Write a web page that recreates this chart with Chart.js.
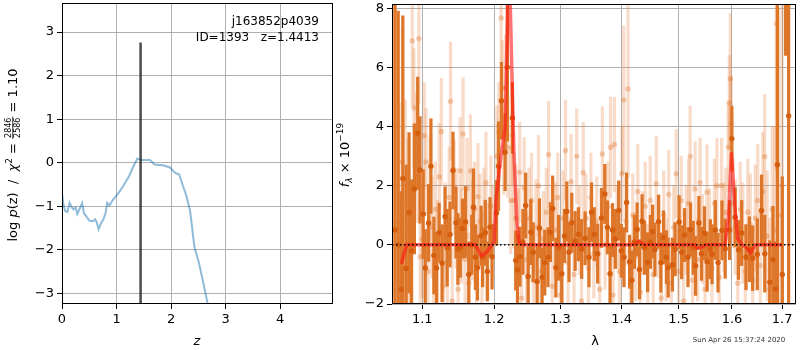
<!DOCTYPE html>
<html>
<head>
<meta charset="utf-8">
<script src="https://cdn.jsdelivr.net/npm/chart.js@4"></script>
<style>
  body { margin: 0; background: #fff; }
  #wrap { position: relative; width: 800px; height: 350px; }
  #leftBox { position: absolute; left: 0; top: 0; width: 336px; height: 350px; }
  #rightBox { position: absolute; left: 330px; top: 0; width: 470px; height: 350px; }
</style>
</head>
<body>
<div id="wrap">
  <div id="leftBox"><canvas id="pzChart"></canvas></div>
  <div id="rightBox"><canvas id="specChart"></canvas></div>
</div>
<script>
// ---- left panel: log p(z) ----
const zGrid = [0.006, 0.03, 0.06, 0.10, 0.14, 0.18, 0.21, 0.25, 0.28, 0.32, 0.37, 0.40, 0.46, 0.51, 0.57, 0.61, 0.64, 0.67, 0.72, 0.76, 0.80, 0.83, 0.87, 0.94, 1.03, 1.12, 1.23, 1.30, 1.38, 1.46, 1.61, 1.70, 1.85, 1.98, 2.07, 2.15, 2.21, 2.28, 2.35, 2.43, 2.51, 2.59, 2.67, 2.75];
const logPz = [-0.75, -0.99, -1.11, -1.13, -0.92, -1.03, -1.07, -1.03, -1.18, -1.07, -0.93, -1.15, -1.26, -1.34, -1.34, -1.30, -1.38, -1.53, -1.38, -1.30, -1.15, -0.92, -0.98, -0.84, -0.71, -0.54, -0.31, -0.11, 0.09, 0.06, 0.06, -0.04, -0.06, -0.11, -0.23, -0.27, -0.50, -0.76, -1.11, -1.95, -2.29, -2.75, -3.23, -3.70];
const zBest = 1.4413;
const zLineTop = 2.76;
const zTicks = [0, 1, 2, 3, 4];
const pzTicks = [-3, -2, -1, 0, 1, 2, 3];

// ---- right panel: spectrum ----
const darkWave = [1.0643, 1.0685, 1.0723, 1.0745, 1.0788, 1.0826, 1.0859, 1.0896, 1.0940, 1.0970,
  1.1013, 1.1040, 1.1085, 1.1116, 1.1156, 1.1192, 1.1227, 1.1267, 1.1308, 1.1337,
  1.1376, 1.1417, 1.1458, 1.1485, 1.1518, 1.1550, 1.1591, 1.1637, 1.1679, 1.1703,
  1.1731, 1.1760, 1.1812, 1.1834, 1.1872, 1.1901, 1.1940, 1.1969, 1.2034, 1.2063,
  1.2106, 1.2160, 1.2193, 1.2267, 1.2317, 1.2344, 1.2380, 1.2425, 1.2466, 1.2504,
  1.2544, 1.2580, 1.2640, 1.2676, 1.2716, 1.2757, 1.2807, 1.2844, 1.2880, 1.2930,
  1.2973, 1.3024, 1.3066, 1.3102, 1.3137, 1.3181, 1.3235, 1.3287, 1.3340, 1.3395,
  1.3458, 1.3500, 1.3545, 1.3601, 1.3663, 1.3719, 1.3762, 1.3806, 1.3847, 1.3894,
  1.3951, 1.3997, 1.4040, 1.4085, 1.4136, 1.4175, 1.4218, 1.4265, 1.4306, 1.4351,
  1.4392, 1.4448, 1.4496, 1.4535, 1.4576, 1.4640, 1.4681, 1.4728, 1.4781, 1.4811,
  1.4888, 1.4936, 1.5008, 1.5055, 1.5109, 1.5171, 1.5218, 1.5267, 1.5310, 1.5372,
  1.5420, 1.5476, 1.5526, 1.5587, 1.5619, 1.5680, 1.5732, 1.5807, 1.5869, 1.5954,
  1.5997, 1.6061, 1.6126, 1.6189, 1.6273, 1.6340, 1.6405, 1.6497, 1.6582, 1.6647,
  1.6747, 1.6813, 1.6869, 1.6903, 1.7004, 1.7072, 1.7134];
const darkFlux = [0.5, 0.0, -1.5, 2.24, -0.8, 1.09, -0.2, 1.89, 3.77, 2.53,
  1.04, -0.78, 0.74, 2.66, -0.36, -0.78, 0.41, -0.62, 0.96, -0.1,
  0.35, 2.51, 0.75, -0.14, -0.1, 0.55, 0.77, -1.0, 0.0, 1.27,
  -0.42, -0.77, 0.31, -0.42, 0.41, -0.9, 0.6, -0.4, 1.08, 2.66,
  4.87, 3.13, 6.0, 4.29, -0.53, -0.85, -0.4, 0.1, 1.33, -1.07,
  0.43, -0.25, -1.24, 0.56, -1.1, -0.6, -0.42, 0.43, 1.23, -0.77,
  -0.1, -0.98, 0.3, 1.13, -0.25, 0.75, 0.13, 0.36, -0.14, 0.22,
  -0.42, 1.1, 0.36, -0.3, 0.91, 1.72, 0.59, -0.98, 0.5, 0.2,
  1.16, -0.2, -0.42, 1.43, -0.57, -1.2, 0.1, 0.52, -0.83, 0.8,
  -0.1, -0.59, 0.1, 0.45, -0.16, 0.78, -0.6, 0.25, -0.42, -0.77,
  -0.67, -0.15, 0.77, -0.25, 0.33, -0.42, 0.52, -0.1, -0.71, 0.74,
  -0.3, 0.39, -0.57, -0.15, -0.32, 0.5, -0.6, 0.49, -0.13, 0.5,
  3.59, 0.93, -0.17, 0.4, -0.42, -0.15, -0.45, -0.32, 1.16, -0.3,
  -1.26, -0.5, -1.49, 2.71, -1.0, 11.0, 4.36];
const darkErr = [9.0, 7.9, 3.3, 5.5, 3.5, 2.7, 2.4, 2.2, 1.9, 1.8,
  1.5, 1.3, 1.3, 1.6, 1.3, 1.2, 1.0, 1.3, 1.0, 1.3,
  1.1, 1.3, 1.2, 1.2, 1.0, 1.0, 1.2, 1.1, 1.0, 1.3,
  1.1, 1.1, 1.0, 1.0, 1.1, 1.0, 1.0, 1.1, 1.1, 1.5,
  1.3, 1.3, 2.5, 1.2, 1.0, 1.2, 1.0, 1.1, 1.1, 1.0,
  1.1, 1.0, 1.2, 1.0, 1.0, 1.1, 1.0, 1.0, 1.1, 1.0,
  1.1, 1.0, 0.9, 1.0, 1.0, 1.0, 1.0, 0.9, 1.0, 0.9,
  1.0, 1.0, 0.9, 1.0, 1.0, 1.0, 0.9, 1.0, 0.9, 1.0,
  1.0, 0.9, 1.0, 1.0, 0.9, 1.0, 0.9, 0.9, 1.0, 0.9,
  0.9, 1.0, 0.9, 0.9, 0.9, 0.9, 1.0, 0.9, 0.9, 1.0,
  0.9, 0.9, 0.9, 0.9, 0.9, 1.0, 0.9, 0.9, 1.0, 0.9,
  0.9, 0.9, 1.0, 1.0, 1.0, 1.0, 1.0, 1.0, 1.0, 1.0,
  1.1, 1.0, 1.0, 1.1, 1.1, 1.1, 1.1, 1.2, 1.2, 1.3,
  1.4, 1.8, 1.6, 7.0, 3.3, 4.6, 9.0];

const lightWave = [1.0648, 1.0697, 1.0739, 1.0776, 1.0813, 1.0845, 1.0868, 1.0890, 1.0921, 1.0955,
  1.0973, 1.0999, 1.1027, 1.1051, 1.1077, 1.1104, 1.1130, 1.1150, 1.1177, 1.1204,
  1.1230, 1.1257, 1.1284, 1.1311, 1.1338, 1.1365, 1.1383, 1.1406, 1.1433, 1.1461,
  1.1488, 1.1516, 1.1537, 1.1557, 1.1585, 1.1613, 1.1636, 1.1661, 1.1690, 1.1718,
  1.1746, 1.1767, 1.1795, 1.1824, 1.1852, 1.1881, 1.1909, 1.1952, 1.1981, 1.2039,
  1.2068, 1.2102, 1.2119, 1.2141, 1.2170, 1.2199, 1.2243, 1.2265, 1.2287, 1.2317,
  1.2354, 1.2376, 1.2405, 1.2443, 1.2480, 1.2517, 1.2555, 1.2585, 1.2622, 1.2660,
  1.2698, 1.2736, 1.2782, 1.2817, 1.2874, 1.2921, 1.2959, 1.2998, 1.3040, 1.3081,
  1.3123, 1.3170, 1.3217, 1.3260, 1.3304, 1.3337, 1.3365, 1.3409, 1.3449, 1.3489,
  1.3537, 1.3585, 1.3634, 1.3678, 1.3724, 1.3773, 1.3814, 1.3856, 1.3880, 1.3922,
  1.3964, 1.4006, 1.4036, 1.4073, 1.4110, 1.4149, 1.4191, 1.4234, 1.4277, 1.4320,
  1.4363, 1.4406, 1.4450, 1.4493, 1.4546, 1.4599, 1.4643, 1.4687, 1.4732, 1.4776,
  1.4821, 1.4866, 1.4911, 1.4956, 1.5001, 1.5046, 1.5091, 1.5137, 1.5183, 1.5210,
  1.5256, 1.5302, 1.5348, 1.5394, 1.5440, 1.5486, 1.5523, 1.5570, 1.5617, 1.5664,
  1.5711, 1.5758, 1.5800, 1.5843, 1.5881, 1.5929, 1.5948, 1.5967, 1.5986, 1.6025,
  1.6064, 1.6113, 1.6161, 1.6210, 1.6259, 1.6308, 1.6357, 1.6406, 1.6456, 1.6506,
  1.6556, 1.6606, 1.6646, 1.6696, 1.6747, 1.6798, 1.6848, 1.6883, 1.6930, 1.7001];
const lightFlux = [0.8, -1.2, 2.8, 1.4, 0.6, -1.6, 6.9, 4.63, 2.95, 6.97,
  -0.4, 0.2, 3.69, 2.8, -0.9, 1.9, 0.6, -2.3, 1.2, -0.3,
  2.3, 3.83, -1.4, 0.4, -0.6, 1.6, 4.85, -1.9, 1.95, 0.9,
  -1.5, 2.5, 0.3, 3.75, -0.5, 1.9, -1.3, 2.5, 0.5, 1.2,
  -0.9, 1.63, 0.8, -0.6, 1.0, 2.1, -0.2, 1.3, 0.4, 3.0,
  3.8, 7.67, 5.3, 3.3, 5.3, 3.3, 1.5, 3.7, 1.5, 0.9,
  0.3, 2.45, -1.8, 1.93, -0.5, 0.9, 1.5, -1.2, 0.6, 2.0,
  -0.9, 0.2, 1.1, 3.05, -1.4, 0.5, 1.6, -1.7, 0.9, 3.19,
  -0.6, 2.13, -1.0, 2.99, 0.5, -1.9, 2.44, 0.9, -0.8, 1.6,
  -0.3, 0.8, -1.5, 3.07, 0.0, 1.3, 3.3, -1.7, 3.39, 0.6,
  -0.9, 2.4, 4.9, 0.8, 5.27, -1.3, 1.0, -0.4, 1.8, -1.6,
  0.4, 1.3, -0.7, 1.5, -1.0, 2.07, 0.3, -1.8, 1.0, -0.5,
  1.7, -1.3, 0.6, 2.4, -0.9, 1.5, -1.9, 0.5, 1.4, 2.99,
  -1.2, 1.89, -0.5, 2.1, 0.2, -1.5, 1.78, 0.4, -0.8, 1.4,
  2.0, -1.1, 2.0, 0.6, 1.1, 3.3, 4.8, 5.61, 4.1, 1.4,
  0.6, -1.3, 1.2, 0.4, -0.9, 1.1, 0.7, -1.2, 0.9, 1.5,
  -0.7, 1.8, 2.98, 0.3, -1.5, 1.2, 0.5, 7.47, 1.0, 2.0];
const lightErr = [8.0, 6.0, 4.5, 3.5, 3.0, 3.0, 2.2, 2.0, 2.2, 2.2,
  2.0, 2.0, 1.8, 1.8, 1.7, 1.8, 1.7, 1.7, 1.6, 1.8,
  1.8, 1.8, 1.7, 1.7, 1.8, 1.7, 2.0, 1.8, 1.6, 1.7,
  1.7, 1.8, 1.6, 1.9, 1.7, 1.7, 1.7, 1.9, 1.7, 1.6,
  1.6, 1.8, 1.6, 1.5, 1.6, 1.7, 1.6, 1.7, 1.6, 1.7,
  1.7, 1.5, 1.6, 1.6, 1.8, 1.7, 1.8, 1.7, 1.6, 1.8,
  1.6, 1.7, 1.6, 1.7, 1.6, 1.7, 1.6, 1.7, 1.6, 1.7,
  1.5, 1.6, 1.5, 1.8, 1.5, 1.6, 1.5, 1.5, 1.6, 1.7,
  1.5, 1.6, 1.5, 1.6, 1.5, 1.5, 1.7, 1.5, 1.4, 1.5,
  1.5, 1.5, 1.5, 1.6, 1.5, 1.5, 1.7, 1.5, 1.6, 1.4,
  1.5, 1.6, 2.5, 1.5, 3.0, 1.5, 1.4, 1.5, 1.6, 1.5,
  1.4, 1.5, 1.4, 1.5, 1.4, 1.6, 1.4, 1.5, 1.5, 1.4,
  1.5, 1.4, 1.4, 1.5, 1.4, 1.5, 1.4, 1.5, 1.5, 1.7,
  1.5, 1.6, 1.4, 1.5, 1.5, 1.5, 1.6, 1.5, 1.5, 1.5,
  1.6, 1.5, 1.6, 1.5, 1.5, 1.5, 1.6, 2.2, 1.6, 1.5,
  1.6, 1.6, 1.6, 1.7, 1.6, 1.8, 1.7, 1.8, 1.8, 1.9,
  1.9, 2.0, 2.1, 2.2, 2.4, 2.8, 3.5, 5.0, 7.0, 8.0];

const modelWave = [1.0727, 1.0760, 1.0795, 1.0900, 1.1200, 1.1500, 1.1727, 1.1770, 1.1811, 1.1880,
  1.1966, 1.2000, 1.2025, 1.2097, 1.2160, 1.2179, 1.2208, 1.2229, 1.2258, 1.2292,
  1.2332, 1.2366, 1.2420, 1.3000, 1.3600, 1.4200, 1.4260, 1.4300, 1.4340, 1.4400,
  1.5000, 1.5300, 1.5340, 1.5420, 1.5500, 1.5700, 1.5867, 1.5930, 1.5989, 1.6050,
  1.6113, 1.6200, 1.6300, 1.6359, 1.6420, 1.6462, 1.6700, 1.7000];
const modelFlux = [-0.64, -0.3, 0.0, 0.0, 0.0, 0.0, 0.0, -0.15, -0.37, -0.28,
  0.0, 0.1, 1.5, 2.96, 3.97, 6.0, 8.8, 8.8, 6.0, 3.0,
  0.8, 0.05, 0.0, 0.0, 0.0, 0.0, 0.06, 0.11, 0.06, 0.0,
  0.0, 0.0, -0.1, -0.08, 0.0, 0.0, 0.0, 0.9, 3.13, 1.4,
  0.2, 0.0, -0.12, -0.28, -0.12, 0.0, 0.0, 0.0];

const waveTicks = [1.1, 1.2, 1.3, 1.4, 1.5, 1.6, 1.7];
const fluxTicks = [-2, 0, 2, 4, 6, 8];

Chart.defaults.font.family = "'DejaVu Sans', sans-serif";
Chart.defaults.font.size = 13;
Chart.defaults.color = "#000";

const minus = (v) => String(v).replace("-", "\u2212");

// frame + extra text drawn over each panel
function panelPlugin(drawText) {
  return {
    id: "panel",
    afterDraw(chart) {
      const ctx = chart.ctx;
      const a = chart.chartArea;
      ctx.save();
      ctx.strokeStyle = "#000";
      ctx.lineWidth = 1;
      ctx.strokeRect(Math.round(a.left) + 0.5, Math.round(a.top) + 0.5,
        Math.round(a.right - a.left) - 1, Math.round(a.bottom - a.top) - 1);
      drawText(ctx, chart);
      ctx.restore();
    },
  };
}

// draw a row of pieces centered on 0 (rotated frame)
function drawPieces(ctx, pieces) {
  let total = 0;
  pieces.forEach((p) => {
    ctx.font = p.font;
    p.w = p.frac ? Math.max(ctx.measureText(p.frac[0]).width, ctx.measureText(p.frac[1]).width) + 2 : ctx.measureText(p.text).width;
    total += p.w;
  });
  let x = -total / 2;
  pieces.forEach((p) => {
    ctx.font = p.font;
    if (p.frac) {
      ctx.textAlign = "center";
      ctx.fillText(p.frac[0], x + p.w / 2, p.dy - 6);
      ctx.fillText(p.frac[1], x + p.w / 2, p.dy + 3);
      ctx.fillRect(x, p.dy - 4.6, p.w, 0.8);
      ctx.textAlign = "left";
    } else {
      ctx.fillText(p.text, x, p.dy);
    }
    x += p.w;
  });
}

const scaleGrid = { color: "#b0b0b0", lineWidth: 1, tickLength: 5, tickColor: "#000", offset: false };

new Chart("pzChart", {
  type: "scatter",
  data: {
    datasets: [
      {
        type: "line",
        data: [{ x: zBest, y: -3.245 }, { x: zBest, y: zLineTop }],
        borderColor: "rgba(30,30,30,0.8)",
        borderWidth: 2.5,
        pointRadius: 0,
        clip: 0,
      },
      {
        type: "line",
        data: zGrid.map((z, i) => ({ x: z, y: logPz[i] })),
        borderColor: "rgba(31,119,180,0.5)",
        borderWidth: 2,
        pointRadius: 0,
        tension: 0,
        clip: 0,
      },
    ],
  },
  options: {
    responsive: true,
    maintainAspectRatio: false,
    animation: false,
    layout: { padding: { left: 0, right: 3, top: 3, bottom: 0 } },
    plugins: { legend: { display: false }, tooltip: { enabled: false } },
    scales: {
      x: {
        type: "linear",
        min: 0,
        max: 4.97,
        grid: scaleGrid,
        border: { display: false },
        ticks: { padding: 3, callback: (v) => minus(v), autoSkip: false },
        afterBuildTicks: (s) => { s.ticks = zTicks.map((v) => ({ value: v })); },
        afterFit: (s) => { s.height = 46; s.paddingLeft = 0; s.paddingRight = 0; },
      },
      y: {
        min: -3.245,
        max: 3.667,
        grid: scaleGrid,
        border: { display: false },
        ticks: { padding: 3, callback: (v) => minus(v), autoSkip: false },
        afterBuildTicks: (s) => { s.ticks = pzTicks.map((v) => ({ value: v })); },
        afterFit: (s) => { s.width = 62; s.paddingTop = 0; s.paddingBottom = 0; },
      },
    },
  },
  plugins: [panelPlugin((ctx, chart) => {
    ctx.fillStyle = "#000";
    ctx.font = "12px 'DejaVu Sans'";
    ctx.textAlign = "right";
    ctx.textBaseline = "alphabetic";
    ctx.fillText("j163852p4039", 319, 25);
    ctx.fillText("ID=1393   z=1.4413", 319, 41);
    ctx.textAlign = "center";
    ctx.font = "italic 13px 'DejaVu Sans'";
    ctx.fillText("z", 197, 345);
    // rotated y label with fraction
    ctx.save();
    ctx.translate(17, 155);
    ctx.rotate(-Math.PI / 2);
    ctx.textAlign = "left";
    const n = "13px 'DejaVu Sans'";
    const it = "italic 13px 'DejaVu Sans'";
    drawPieces(ctx, [
      { text: "log ", font: n, dy: 0 },
      { text: "p", font: it, dy: 0 },
      { text: "(z)  /  ", font: n, dy: 0 },
      { text: "\u03c7", font: it, dy: 0 },
      { text: "2", font: "9px 'DejaVu Sans'", dy: -5 },
      { text: " = ", font: n, dy: 0 },
      { frac: ["2846", "2586"], font: "8px 'DejaVu Sans'", dy: 0 },
      { text: " = 1.10", font: n, dy: 0 },
    ]);
    ctx.restore();
  })],
});

new Chart("specChart", {
  type: "scatter",
  data: {
    datasets: [
      {
        type: "line",
        order: 0,
        data: [{ x: 1.0605, y: 0 }, { x: 1.7288, y: 0 }],
        borderColor: "#000",
        borderWidth: 1.5,
        borderDash: [1.5, 2.5],
        pointRadius: 0,
        clip: 0,
      },
      {
        type: "line",
        order: 1,
        data: modelWave.map((w, i) => ({ x: w, y: modelFlux[i] })),
        borderColor: "rgba(255,20,20,0.6)",
        borderWidth: 3.5,
        pointRadius: 0,
        tension: 0,
        clip: 0,
      },
      {
        type: "scatter",
        order: 2,
        data: darkWave.map((w, i) => ({ x: w, y: darkFlux[i] })),
        backgroundColor: "rgb(214,95,15)",
        borderWidth: 0,
        pointRadius: 2.7,
        clip: 0,
      },
      {
        type: "bar",
        order: 3,
        data: darkWave.map((w, i) => ({ x: w, y: [darkFlux[i] - darkErr[i], darkFlux[i] + darkErr[i]] })),
        backgroundColor: "rgb(222,118,42)",
        borderWidth: 0,
        barThickness: 2.6,
        grouped: false,
        clip: 0,
      },
      {
        type: "scatter",
        order: 4,
        data: lightWave.map((w, i) => ({ x: w, y: lightFlux[i] })),
        backgroundColor: "rgba(222,110,30,0.32)",
        borderWidth: 0,
        pointRadius: 2.7,
        clip: 0,
      },
      {
        type: "bar",
        order: 5,
        data: lightWave.map((w, i) => ({ x: w, y: [lightFlux[i] - lightErr[i], lightFlux[i] + lightErr[i]] })),
        backgroundColor: "rgba(230,130,60,0.28)",
        borderWidth: 0,
        barThickness: 2.6,
        grouped: false,
        clip: 0,
      },
    ],
  },
  options: {
    responsive: true,
    maintainAspectRatio: false,
    animation: false,
    layout: { padding: { left: 0, right: 1, top: 3, bottom: 0 } },
    plugins: { legend: { display: false }, tooltip: { enabled: false } },
    scales: {
      x: {
        type: "logarithmic",
        min: 1.0605,
        max: 1.7288,
        offset: false,
        grid: scaleGrid,
        border: { display: false },
        ticks: { padding: 3, autoSkip: false, maxRotation: 0, callback: (v) => Number(v).toFixed(1) },
        afterBuildTicks: (s) => { s.ticks = waveTicks.map((v) => ({ value: v })); },
        afterFit: (s) => { s.height = 46; s.paddingLeft = 0; s.paddingRight = 0; },
      },
      y: {
        type: "linear",
        min: -2,
        max: 8.14,
        grid: scaleGrid,
        border: { display: false },
        ticks: { padding: 3, callback: (v) => minus(v), autoSkip: false },
        afterBuildTicks: (s) => { s.ticks = fluxTicks.map((v) => ({ value: v })); },
        afterFit: (s) => { s.width = 62; s.paddingTop = 0; s.paddingBottom = 0; },
      },
    },
  },
  plugins: [panelPlugin((ctx, chart) => {
    ctx.fillStyle = "#000";
    ctx.textAlign = "center";
    ctx.textBaseline = "alphabetic";
    ctx.font = "13px 'DejaVu Sans'";
    ctx.fillText("\u03bb", 265, 345);
    ctx.fillStyle = "#333";
    ctx.font = "7px 'DejaVu Sans'";
    ctx.fillText("Sun Apr 26 15:37:24 2020", 409, 342);
    ctx.fillStyle = "#000";
    ctx.save();
    ctx.translate(19, 155);
    ctx.rotate(-Math.PI / 2);
    ctx.textAlign = "left";
    drawPieces(ctx, [
      { text: "f", font: "italic 13px 'DejaVu Sans'", dy: 0 },
      { text: "\u03bb", font: "italic 9px 'DejaVu Sans'", dy: 3 },
      { text: " \u00d7 10", font: "13px 'DejaVu Sans'", dy: 0 },
      { text: "\u221219", font: "9px 'DejaVu Sans'", dy: -6 },
    ]);
    ctx.restore();
  })],
});
</script>
</body>
</html>
